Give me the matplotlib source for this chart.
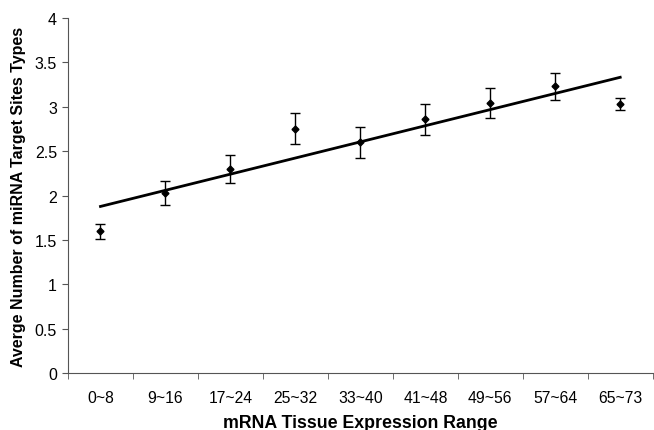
import numpy as np
import matplotlib
matplotlib.use("Agg")
import matplotlib.pyplot as plt

plt.rcParams['font.family'] = ['Liberation Sans', 'DejaVu Sans']

ranges = ["0~8", "9~16", "17~24", "25~32", "33~40", "41~48", "49~56", "57~64", "65~73"]
avg_sites = [1.60, 2.03, 2.30, 2.75, 2.60, 2.86, 3.04, 3.23, 3.03]
err = [0.085, 0.135, 0.155, 0.175, 0.175, 0.175, 0.17, 0.15, 0.07]

x = np.arange(1, len(ranges) + 1)

fig = plt.figure(figsize=(6.54, 4.31), dpi=100)
ax = fig.add_axes([0.104, 0.132, 0.894, 0.824])

ax.errorbar(x, avg_sites, yerr=err, fmt="D", color="black", markersize=3.5,
            ecolor="black", elinewidth=1, capsize=3.5, capthick=1)

# linear trend line
k, b = np.polyfit(x, avg_sites, 1)
ax.plot([x[0], x[-1]], [k * x[0] + b, k * x[-1] + b], color="black", lw=2)

ax.set_xlim(0.5, 9.5)
ax.set_ylim(0, 4)
ax.set_yticks(np.arange(0, 4.01, 0.5))
ax.set_yticklabels(["0", "0.5", "1", "1.5", "2", "2.5", "3", "3.5", "4"])
ax.set_xticks(x)
ax.set_xticklabels(ranges)
ax.set_xticks(np.arange(0.5, 9.6, 1), minor=True)
ax.tick_params(axis="x", which="major", length=0, pad=12, labelsize=11.3)
ax.tick_params(axis="x", which="minor", length=4, color="#555555")
ax.tick_params(axis="y", length=4, color="#555555", labelsize=11.5, pad=4)

for s in ["top", "right"]:
    ax.spines[s].set_visible(False)
for s in ["left", "bottom"]:
    ax.spines[s].set_color("#555555")

ax.set_xlabel("mRNA Tissue Expression Range", fontsize=12.8, fontweight="bold", labelpad=7)
ax.set_ylabel("Averge Number of miRNA Target Sites Types", fontsize=11.5, fontweight="bold", labelpad=6)

fig.savefig("out.png", dpi=100)
